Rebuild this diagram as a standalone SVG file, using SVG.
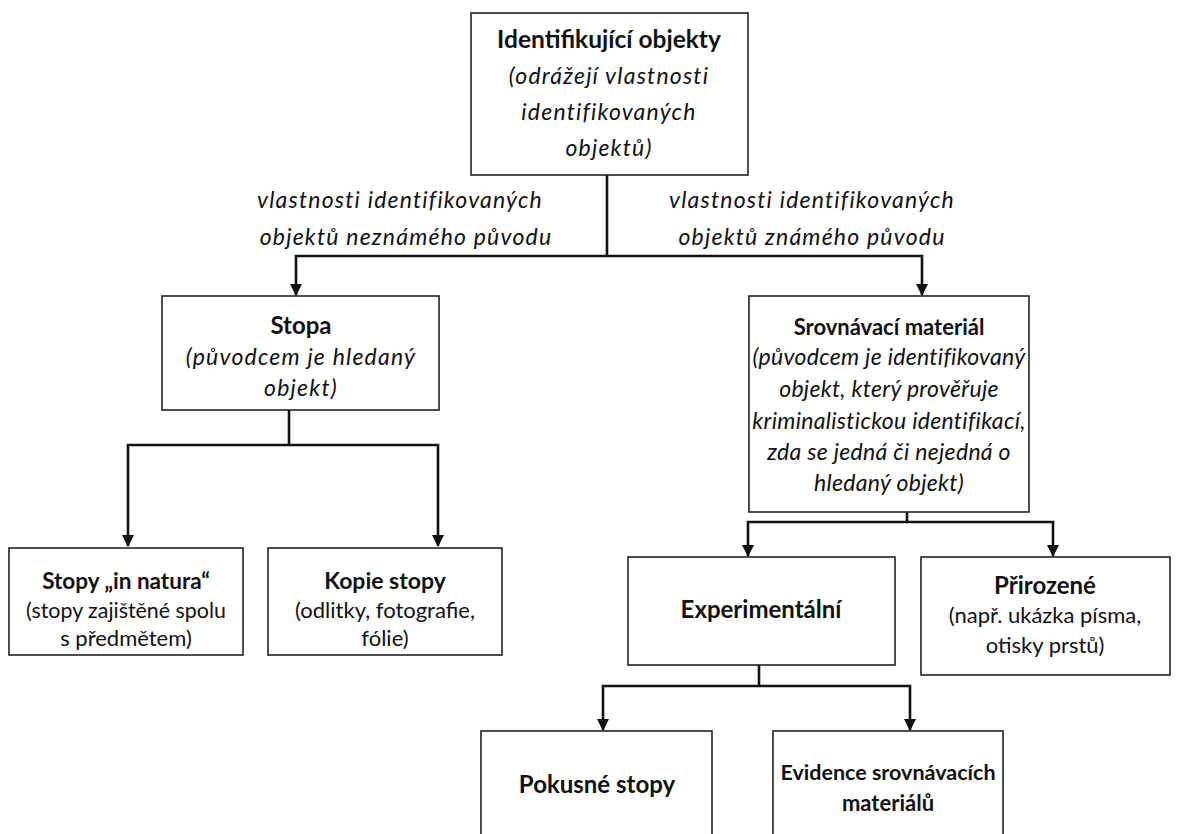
<svg xmlns="http://www.w3.org/2000/svg" width="1181" height="834" viewBox="0 0 1181 834">
  <style>
    .box { fill: #ffffff; stroke: #222222; stroke-width: 1.6; }
    .wire { fill: none; stroke: #111111; stroke-width: 2.6; }
    text { font-family: Lato, "Open Sans", "Liberation Sans", sans-serif; font-size: 22px; fill: #111111; text-anchor: middle; }
    .b { font-weight: bold; font-size: 24px; }
    .i { font-style: italic; font-size: 23px; letter-spacing: 1.2px; }
    .tight { letter-spacing: 0.3px; }
  </style>
  <defs>
    <marker id="arrow" viewBox="0 0 12 12" refX="11" refY="6" markerWidth="12" markerHeight="12" markerUnits="userSpaceOnUse" orient="auto">
      <path d="M0,0 L12,6 L0,12 Z" fill="#111111"/>
    </marker>
  </defs>

  <rect width="1181" height="834" fill="#ffffff"/>

  <!-- connectors -->
  <g id="connectors">
    <path class="wire" d="M607,175 V256"/>
    <path class="wire" d="M607,256 H296 V295" marker-end="url(#arrow)"/>
    <path class="wire" d="M607,256 H922 V295" marker-end="url(#arrow)"/>
    <path class="wire" d="M289,410 V445"/>
    <path class="wire" d="M289,445 H128 V546" marker-end="url(#arrow)"/>
    <path class="wire" d="M289,445 H438 V546" marker-end="url(#arrow)"/>
    <path class="wire" d="M907,512 V522"/>
    <path class="wire" d="M907,522 H748 V556" marker-end="url(#arrow)"/>
    <path class="wire" d="M907,522 H1053 V556" marker-end="url(#arrow)"/>
    <path class="wire" d="M759,665 V686"/>
    <path class="wire" d="M759,686 H603 V730" marker-end="url(#arrow)"/>
    <path class="wire" d="M759,686 H910 V730" marker-end="url(#arrow)"/>
  </g>

  <!-- edge labels -->
  <g id="labels">
    <text class="i" x="400" y="208">vlastnosti identifikovaných</text>
    <text class="i" x="406" y="245">objektů neznámého původu</text>
    <text class="i" x="812" y="208">vlastnosti identifikovaných</text>
    <text class="i" x="812" y="245">objektů známého původu</text>
  </g>

  <g id="identifikujici">
    <rect class="box" x="471" y="13" width="277" height="162"/>
    <text class="b" x="609" y="48" style="font-size:24.5px">Identifikující objekty</text>
    <text class="i" x="609" y="84">(odrážejí vlastnosti</text>
    <text class="i" x="609" y="120">identifikovaných</text>
    <text class="i" x="609" y="156">objektů)</text>
  </g>

  <g id="stopa">
    <rect class="box" x="162" y="296" width="277" height="114"/>
    <text class="b" x="301" y="334">Stopa</text>
    <text class="i" x="301" y="365">(původcem je hledaný</text>
    <text class="i" x="301" y="396">objekt)</text>
  </g>

  <g id="srovnavaci">
    <rect class="box" x="749" y="296" width="280" height="216"/>
    <text class="b" x="889" y="335" style="font-size:22px">Srovnávací materiál</text>
    <text class="i tight" x="889" y="365">(původcem je identifikovaný</text>
    <text class="i tight" x="889" y="397">objekt, který prověřuje</text>
    <text class="i tight" x="889" y="429">kriminalistickou identifikací,</text>
    <text class="i tight" x="889" y="460">zda se jedná či nejedná o</text>
    <text class="i tight" x="889" y="491">hledaný objekt)</text>
  </g>

  <g id="in-natura">
    <rect class="box" x="9" y="548" width="234" height="107"/>
    <text class="b" x="126" y="589" style="font-size:22.5px">Stopy „in natura“</text>
    <text x="126" y="618" style="font-size:21.4px">(stopy zajištěné spolu</text>
    <text x="126" y="646">s předmětem)</text>
  </g>

  <g id="kopie">
    <rect class="box" x="268" y="548" width="234" height="107"/>
    <text class="b" x="385" y="589" style="font-size:23px">Kopie stopy</text>
    <text x="385" y="618">(odlitky, fotografie,</text>
    <text x="385" y="646">fólie)</text>
  </g>

  <g id="experimentalni">
    <rect class="box" x="628" y="557" width="267" height="108"/>
    <text class="b" x="761" y="618">Experimentální</text>
  </g>

  <g id="prirozene">
    <rect class="box" x="921" y="557" width="249" height="118"/>
    <text class="b" x="1045" y="594">Přirozené</text>
    <text x="1045" y="623">(např. ukázka písma,</text>
    <text x="1045" y="653">otisky prstů)</text>
  </g>

  <g id="pokusne">
    <rect class="box" x="481" y="731" width="231" height="120"/>
    <text class="b" x="597" y="793">Pokusné stopy</text>
  </g>

  <g id="evidence">
    <rect class="box" x="773" y="731" width="230" height="120"/>
    <text class="b" x="888" y="780" style="font-size:21.5px">Evidence srovnávacích</text>
    <text class="b" x="888" y="811" style="font-size:22px">materiálů</text>
  </g>
</svg>
